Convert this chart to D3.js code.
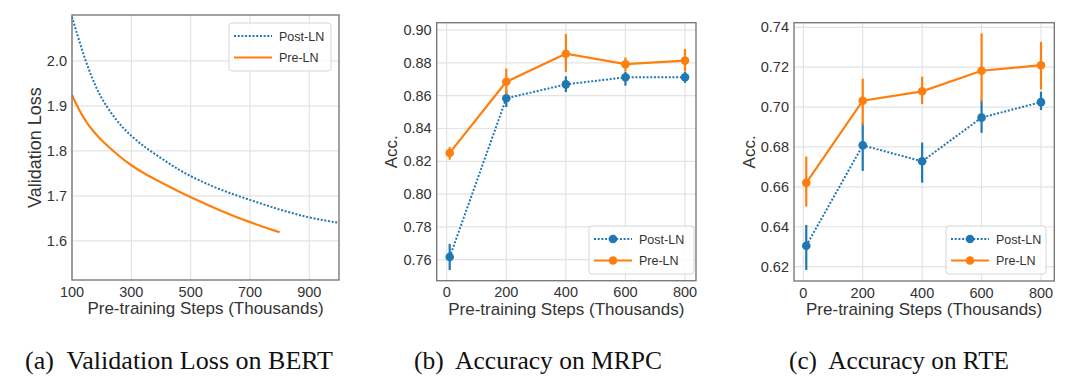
<!DOCTYPE html>
<html>
<head>
<meta charset="utf-8">
<script src="https://cdn.jsdelivr.net/npm/d3@7"></script>
<style>
  html, body { margin: 0; padding: 0; background: #fff; }
  svg { display: block; }
  text { font-family: "Liberation Sans", Arial, sans-serif; fill: #333; }
  .cap { font-family: "Liberation Serif", "Times New Roman", serif; fill: #111; }
</style>
</head>
<body>
<svg id="fig" width="1080" height="386"></svg>
<script>
'use strict';

/* ── data ─────────────────────────────────────────────────────── */

// (a) validation loss on BERT
const lossPostSteps = [100, 125, 150, 175, 200, 250, 300, 350, 400, 450, 500, 600, 700, 800, 900, 1000];
const lossPost      = [2.098, 2.042, 1.992, 1.950, 1.915, 1.866, 1.832, 1.806, 1.784, 1.762, 1.743, 1.713, 1.691, 1.669, 1.651, 1.640];
const lossPreSteps  = [100, 125, 150, 175, 200, 250, 300, 350, 400, 450, 500, 600, 700, 800];
const lossPre       = [1.924, 1.889, 1.862, 1.841, 1.823, 1.793, 1.767, 1.747, 1.730, 1.713, 1.697, 1.667, 1.641, 1.619];

// (b), (c) fine-tuning accuracy, steps in thousands
const ftSteps = [10, 200, 400, 600, 800];

const mrpcPost   = [0.7616, 0.8584, 0.8669, 0.8712, 0.8712];
const mrpcPostLo = [0.7537, 0.8531, 0.8622, 0.8661, 0.8678];
const mrpcPostHi = [0.7696, 0.8633, 0.8718, 0.8745, 0.8745];
const mrpcPre    = [0.8251, 0.8685, 0.8856, 0.8792, 0.8814];
const mrpcPreLo  = [0.8210, 0.8608, 0.8744, 0.8747, 0.8747];
const mrpcPreHi  = [0.8287, 0.8765, 0.8976, 0.8833, 0.8885];

const rtePost   = [0.6305, 0.6808, 0.6728, 0.6947, 0.7025];
const rtePostLo = [0.6183, 0.6680, 0.6621, 0.6871, 0.6985];
const rtePostHi = [0.6409, 0.6922, 0.6822, 0.7035, 0.7077];
const rtePre    = [0.6620, 0.7032, 0.7079, 0.7182, 0.7210];
const rtePreLo  = [0.6501, 0.6910, 0.7015, 0.7027, 0.7088];
const rtePreHi  = [0.6752, 0.7142, 0.7152, 0.7369, 0.7327];

const lossXTicks = [100, 300, 500, 700, 900];
const lossYTicks = [1.6, 1.7, 1.8, 1.9, 2.0];
const ftXTicks   = [0, 200, 400, 600, 800];
const mrpcYTicks = [0.76, 0.78, 0.80, 0.82, 0.84, 0.86, 0.88, 0.90];
const rteYTicks  = [0.62, 0.64, 0.66, 0.68, 0.70, 0.72, 0.74];

const seriesNames = ['Post-LN', 'Pre-LN'];
const captions = ['(a)\u00a0 Validation Loss on BERT', '(b)\u00a0 Accuracy on MRPC', '(c)\u00a0 Accuracy on RTE'];

/* ── styling ──────────────────────────────────────────────────── */

const BLUE   = '#1f77b4';
const ORANGE = '#ff7f0e';
const DOTS   = '2 1.7';

const svg = d3.select('#fig');

// frame of a panel + its scales
function panel(box, xDom, yDom, xTicks, yTicks, yFmt, xLabel, yLabel) {
  const x = d3.scaleLinear().domain(xDom).range([box.l, box.r]);
  const y = d3.scaleLinear().domain(yDom).range([box.b, box.t]);
  const g = svg.append('g');

  // grid
  g.append('g').selectAll('line').data(xTicks).join('line')
    .attr('x1', d => x(d)).attr('x2', d => x(d))
    .attr('y1', box.t).attr('y2', box.b)
    .attr('stroke', '#e3e3e3').attr('stroke-width', 1.2);
  g.append('g').selectAll('line').data(yTicks).join('line')
    .attr('x1', box.l).attr('x2', box.r)
    .attr('y1', d => y(d)).attr('y2', d => y(d))
    .attr('stroke', '#e3e3e3').attr('stroke-width', 1.2);

  // tick labels
  g.append('g').selectAll('text').data(xTicks).join('text')
    .attr('x', d => x(d)).attr('y', box.b + 16.5)
    .attr('text-anchor', 'middle').attr('font-size', 14.5)
    .text(d => d);
  g.append('g').selectAll('text').data(yTicks).join('text')
    .attr('x', box.l - 5).attr('y', d => y(d) + 5)
    .attr('text-anchor', 'end').attr('font-size', 14.5)
    .text(yFmt);

  // axis labels
  g.append('text')
    .attr('x', (box.l + box.r) / 2).attr('y', box.b + 34)
    .attr('text-anchor', 'middle').attr('font-size', 17)
    .text(xLabel);
  const cy = (box.t + box.b) / 2;
  g.append('text')
    .attr('transform', `translate(${box.yl},${cy}) rotate(-90)`)
    .attr('text-anchor', 'middle').attr('font-size', box.ys || 17)
    .text(yLabel);

  const plot = svg.append('g');
  // frame drawn last
  const frame = () => svg.append('rect')
    .attr('x', box.l).attr('y', box.t)
    .attr('width', box.r - box.l).attr('height', box.b - box.t)
    .attr('fill', 'none').attr('stroke', '#7a7a7a').attr('stroke-width', 1.4);

  return { x, y, plot, frame };
}

function legend(x0, y0, w, withMarker) {
  const g = svg.append('g');
  g.append('rect')
    .attr('x', x0).attr('y', y0).attr('width', w).attr('height', 48)
    .attr('rx', 3).attr('fill', '#fff').attr('fill-opacity', 0.85)
    .attr('stroke', '#d6d6d6').attr('stroke-width', 1);
  seriesNames.forEach((name, i) => {
    const yy = y0 + 13 + i * 21.5;
    const col = i === 0 ? BLUE : ORANGE;
    g.append('line')
      .attr('x1', x0 + 5).attr('x2', x0 + 43).attr('y1', yy).attr('y2', yy)
      .attr('stroke', col).attr('stroke-width', i === 0 ? 2 : 2.2)
      .attr('stroke-dasharray', i === 0 ? DOTS : null);
    if (withMarker) {
      g.append('circle').attr('cx', x0 + 24).attr('cy', yy).attr('r', 4.3).attr('fill', col);
    }
    g.append('text')
      .attr('x', x0 + 50).attr('y', yy + 4.5).attr('font-size', 12.5)
      .text(name);
  });
}

function errSeries(p, xs, vals, lo, hi, col, dotted) {
  const line = d3.line().x((d, i) => p.x(xs[i])).y(d => p.y(d));
  p.plot.append('path').datum(vals)
    .attr('d', line).attr('fill', 'none')
    .attr('stroke', col).attr('stroke-width', dotted ? 2 : 2.2)
    .attr('stroke-dasharray', dotted ? DOTS : null);
  p.plot.append('g').selectAll('line').data(vals).join('line')
    .attr('x1', (d, i) => p.x(xs[i])).attr('x2', (d, i) => p.x(xs[i]))
    .attr('y1', (d, i) => p.y(lo[i])).attr('y2', (d, i) => p.y(hi[i]))
    .attr('stroke', col).attr('stroke-width', 2.2);
  p.plot.append('g').selectAll('circle').data(vals).join('circle')
    .attr('cx', (d, i) => p.x(xs[i])).attr('cy', d => p.y(d))
    .attr('r', 4.3).attr('fill', col);
}

/* ── (a) loss ─────────────────────────────────────────────────── */
const pa = panel({ l: 72, r: 339, t: 15, b: 280, yl: 41, ys: 18 },
  [100, 1000], [1.513, 2.102], lossXTicks, lossYTicks, d3.format('.1f'),
  'Pre-training Steps (Thousands)', 'Validation Loss');

pa.plot.append('path').datum(lossPost)
  .attr('d', d3.line().curve(d3.curveBasis).x((d, i) => pa.x(lossPostSteps[i])).y(d => pa.y(d)))
  .attr('fill', 'none').attr('stroke', BLUE).attr('stroke-width', 2)
  .attr('stroke-dasharray', DOTS);
pa.plot.append('path').datum(lossPre)
  .attr('d', d3.line().curve(d3.curveBasis).x((d, i) => pa.x(lossPreSteps[i])).y(d => pa.y(d)))
  .attr('fill', 'none').attr('stroke', ORANGE).attr('stroke-width', 2.2);
pa.frame();
legend(229, 23, 102, false);

/* ── (b) MRPC ─────────────────────────────────────────────────── */
const pb = panel({ l: 436.7, r: 696, t: 22.7, b: 280.7, yl: 397 },
  [-33.6, 836.9], [0.7472, 0.9045], ftXTicks, mrpcYTicks, d3.format('.2f'),
  'Pre-training Steps (Thousands)', 'Acc.');
errSeries(pb, ftSteps, mrpcPost, mrpcPostLo, mrpcPostHi, BLUE, true);
errSeries(pb, ftSteps, mrpcPre, mrpcPreLo, mrpcPreHi, ORANGE, false);
pb.frame();
legend(589, 226, 105, true);

/* ── (c) RTE ──────────────────────────────────────────────────── */
const pc = panel({ l: 794, r: 1054.3, t: 22.7, b: 281, yl: 755 },
  [-31.3, 844.8], [0.6128, 0.7423], ftXTicks, rteYTicks, d3.format('.2f'),
  'Pre-training Steps (Thousands)', 'Acc.');
errSeries(pc, ftSteps, rtePost, rtePostLo, rtePostHi, BLUE, true);
errSeries(pc, ftSteps, rtePre, rtePreLo, rtePreHi, ORANGE, false);
pc.frame();
legend(946, 226, 100, true);

/* ── captions ─────────────────────────────────────────────────── */
const capX = [25, 414, 789];
const capW = [308, 248, 220];
svg.append('g').selectAll('text').data(captions).join('text')
  .attr('class', 'cap')
  .attr('x', (d, i) => capX[i]).attr('y', 369)
  .attr('font-size', 24.5)
  .attr('textLength', (d, i) => capW[i])
  .attr('lengthAdjust', 'spacingAndGlyphs')
  .text(d => d);
</script>
</body>
</html>
